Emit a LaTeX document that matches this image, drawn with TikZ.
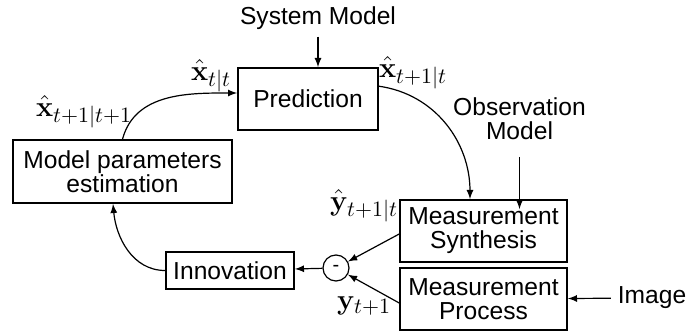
\documentclass[tikz,border=0pt]{standalone}
\usepackage[no-math]{fontspec}
\setmainfont{Liberation Sans}
\usetikzlibrary{positioning}

\tikzset{
  blk/.style={draw, line width=0.8pt, inner sep=0pt, align=center,
    font=\fontsize{12.3}{12}\selectfont},
  txt/.style={align=center, font=\fontsize{12.3}{11.8}\selectfont},
  lbl/.style={font=\fontsize{15}{16}\selectfont, inner sep=0pt},
  con/.style={->, line width=0.6pt}
}

\begin{document}
\begin{tikzpicture}[>=latex, x=0.5pt, y=0.5pt]
\useasboundingbox (0,0) rectangle (691,332);

\node[blk, minimum width=70pt, minimum height=31pt] (pred) at (308,233) {Prediction};
\node[blk, minimum width=109.5pt, minimum height=31.5pt] (est) at (122.5,160.5) {Model parameters\\estimation};
\node[blk, minimum width=64pt, minimum height=18.5pt] (inn) at (230,61.5) {Innovation};
\node[blk, minimum width=83.5pt, minimum height=31pt] (synth) at (483.5,101) {Measurement\\Synthesis};
\node[blk, minimum width=83.5pt, minimum height=31pt] (proc) at (483.5,33) {Measurement\\Process};
\node[draw, circle, line width=0.6pt, minimum size=13pt, inner sep=0pt, font=\fontsize{10}{10}\selectfont] (minus) at (336,64) {-};

\node[txt] (sysmod) at (318,314) {System Model};
\node[txt] (obsmod) at (519.5,213) {Observation\\Model};
\node[txt] (img) at (652,34) {Image};

\draw[con] (sysmod.south) -- (sysmod.south |- pred.north);
\draw[con] ([yshift=-5pt]obsmod.south) -- ([yshift=-5pt]obsmod.south |- synth.north);
\draw[con] ([yshift=-9.5pt]pred.north east) to[out=-8, in=90] ([xshift=-6.75pt]synth.north);
\draw[con] (est.north) to[out=75, in=180] ([yshift=3pt]pred.west);
\draw[con] (inn.west) to[out=180, in=-85] ([xshift=-4.75pt]est.south);
\draw[con] ([yshift=-1.5pt]synth.west) -- (minus);
\draw[con] ([yshift=-2pt]proc.west) -- (minus);
\draw[con] (minus) -- (inn);
\draw[con] (img) -- (proc);

\node[lbl] (xtt) at (211,256) {$\hat{\mathbf{x}}_{t|t}$};
\node[lbl] (xnn) at (84,220) {$\hat{\mathbf{x}}_{t+1|t+1}$};
\node[lbl] (xnt) at (413,259) {$\hat{\mathbf{x}}_{t+1|t}$};
\node[lbl] (ynt) at (364,126) {$\hat{\mathbf{y}}_{t+1|t}$};
\node[lbl] (yn) at (364,26) {$\mathbf{y}_{t+1}$};

\end{tikzpicture}
\end{document}
